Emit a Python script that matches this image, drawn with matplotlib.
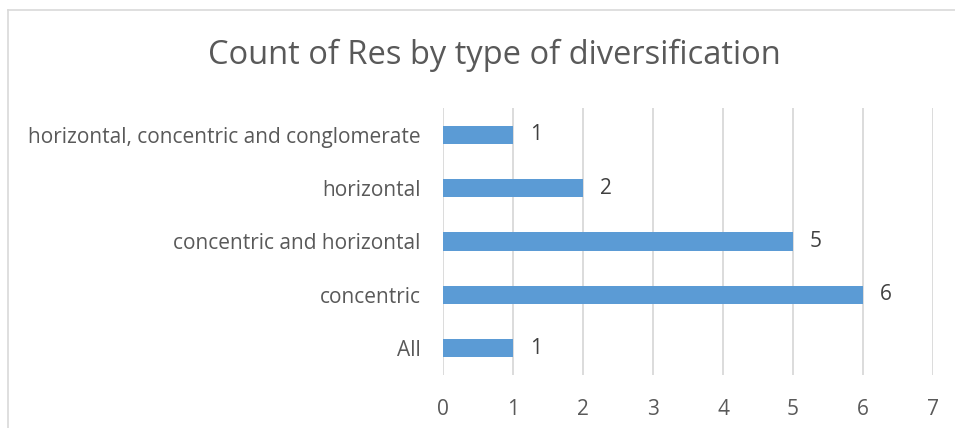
import matplotlib
matplotlib.use("Agg")
import matplotlib.pyplot as plt
from matplotlib.lines import Line2D

categories = ["All", "concentric", "concentric and horizontal", "horizontal",
              "horizontal, concentric and conglomerate"]
counts = [1, 6, 5, 2, 1]
x_ticks = [0, 1, 2, 3, 4, 5, 6, 7]
title = "Count of Res by type of diversification"

plt.rcParams["font.family"] = ["Open Sans", "DejaVu Sans"]

W, H = 955, 428
fig = plt.figure(figsize=(W / 100, H / 100), dpi=100)
ax = fig.add_axes([443 / W, (H - 375) / H, (933 - 443) / W, (375 - 108) / H])

ypos = list(range(len(categories)))
ax.barh(ypos, counts, height=0.34, color="#5B9BD5", zorder=3)
for y, v in zip(ypos, counts):
    ax.text(v + 0.24, y, str(v), va="center", ha="left", fontsize=15, color="#404040")

ax.set_xlim(0, 7)
ax.set_ylim(-0.5, len(categories) - 0.5)
ax.set_xticks(x_ticks)
ax.set_xticklabels([str(t) for t in x_ticks])
ax.set_yticks(ypos)
ax.set_yticklabels(categories)
ax.tick_params(axis="both", length=0, labelsize=15, labelcolor="#595959")
ax.tick_params(axis="x", pad=17)
ax.tick_params(axis="y", pad=16)
ax.grid(axis="x", color="#D9D9D9", linewidth=1.3, zorder=0)
for s in ax.spines.values():
    s.set_visible(False)

fig.text(494 / W, 1 - 55 / H, title, ha="center", va="center", fontsize=23.5,
         color="#595959")

# chart frame
fig.add_artist(Line2D([8 / W, 1], [1 - 10 / H, 1 - 10 / H], color="#D9D9D9", lw=1.2,
                      transform=fig.transFigure))
fig.add_artist(Line2D([8 / W, 8 / W], [0, 1 - 10 / H], color="#D9D9D9", lw=1.2,
                      transform=fig.transFigure))

fig.savefig("out.png", dpi=100, facecolor="white")
